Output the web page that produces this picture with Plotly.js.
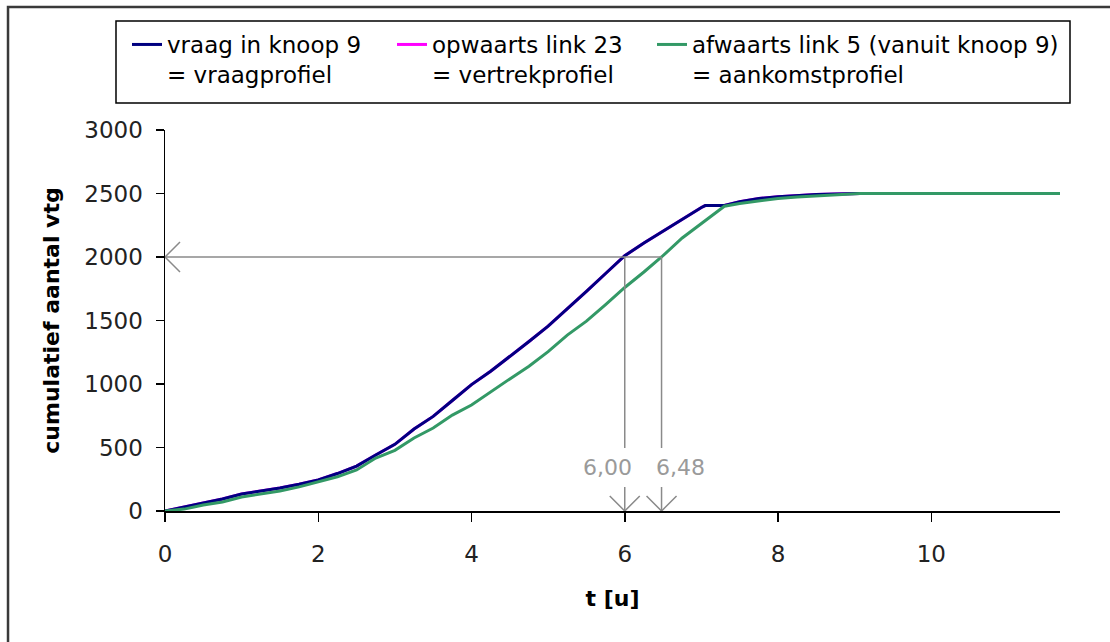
<!DOCTYPE html>
<html>
<head>
<meta charset="utf-8">
<script src="https://cdn.plot.ly/plotly-3.0.1.min.js"></script>
<style>html,body{margin:0;padding:0;background:#fff;}#chart{width:1110px;height:642px;}</style>
</head>
<body>
<div id="chart"></div>
<script>
// time (hours) for the demand / departure profile
var tVraag = [0, 0.25, 0.5, 0.75, 1, 1.25, 1.5, 1.75, 2, 2.25, 2.5, 2.75, 3, 3.25, 3.5, 3.75, 4, 4.25, 4.5, 4.75, 5, 5.25, 5.5, 5.75, 6, 6.25, 6.5, 6.75, 7, 7.05, 7.3, 7.5, 7.75, 8, 8.25, 8.5, 8.75, 9.07, 11.68];
var vraag  = [0, 34, 63, 94, 134, 158, 181, 210, 244, 295, 354, 441, 525, 645, 745, 870, 995, 1100, 1215, 1335, 1455, 1590, 1730, 1870, 2010, 2110, 2205, 2298, 2390, 2405, 2405, 2436, 2460, 2475, 2485, 2492, 2497, 2500, 2500];
var opwaarts = [0, 34, 63, 94, 134, 158, 181, 210, 244, 295, 354, 441, 525, 645, 745, 870, 995, 1100, 1215, 1335, 1455, 1590, 1730, 1870, 2010, 2110, 2205, 2298, 2390, 2405, 2405, 2436, 2460, 2475, 2485, 2492, 2497, 2500, 2500];
// time (hours) for the arrival profile
var tAfwaarts = [0, 0.25, 0.5, 0.75, 1, 1.25, 1.5, 1.75, 2, 2.25, 2.5, 2.75, 3, 3.25, 3.5, 3.75, 4, 4.25, 4.5, 4.75, 5, 5.25, 5.5, 5.75, 6, 6.25, 6.48, 6.75, 7, 7.3, 7.5, 7.75, 8, 8.25, 8.5, 8.75, 9.07, 11.68];
var afwaarts  = [0, 15, 47, 71, 110, 135, 157, 190, 228, 270, 323, 417, 478, 575, 653, 755, 835, 940, 1040, 1140, 1255, 1385, 1495, 1625, 1760, 1882, 2000, 2150, 2265, 2400, 2422, 2440, 2460, 2472, 2482, 2490, 2500, 2500];

var names = ['vraag in knoop 9<br>= vraagprofiel', 'opwaarts link 23<br>= vertrekprofiel', 'afwaarts link 5 (vanuit knoop 9)<br>= aankomstprofiel'];
var xTicks = [0, 2, 4, 6, 8, 10];
var yTicks = [0, 500, 1000, 1500, 2000, 2500, 3000];
var tMarks = [6.00, 6.48];
var tMarkLabels = ['6,00', '6,48'];
var vLevel = 2000;

var FONT = 'DejaVu Sans, Arial, sans-serif';

var traces = [
  {x: tVraag, y: opwaarts, name: names[1], mode: 'lines', line: {color: '#ff00ff', width: 3}, legend: 'legend2'},
  {x: tVraag, y: vraag, name: names[0], mode: 'lines', line: {color: '#000080', width: 3}, legend: 'legend'},
  {x: tAfwaarts, y: afwaarts, name: names[2], mode: 'lines', line: {color: '#339966', width: 3}, legend: 'legend3'}
];

var gray = '#8a8a8a';
var shapes = [
  // outer frame
  {type: 'rect', xref: 'paper', yref: 'paper', x0: -0.1754, x1: 1.3, y0: -0.6, y1: 1.3228, line: {color: '#3a3a3a', width: 2.5}},
  // legend frame
  {type: 'rect', xref: 'paper', yref: 'paper', x0: -0.05475, x1: 1.01117, y0: 1.07087, y1: 1.28609, line: {color: '#000', width: 1.5}},
  // horizontal reference line
  {type: 'line', xref: 'x', yref: 'y', x0: 0, x1: tMarks[1], y0: vLevel, y1: vLevel, line: {color: gray, width: 1.5}},
  // left arrow head at y axis
  {type: 'path', xref: 'x', yref: 'y', xsizemode: 'pixel', ysizemode: 'pixel', xanchor: 0, yanchor: vLevel, path: 'M15,15 L0,0 L15,-15', line: {color: gray, width: 1.5}}
];
tMarks.forEach(function (t) {
  shapes.push({type: 'line', xref: 'x', yref: 'y', x0: t, x1: t, y0: vLevel, y1: 496, line: {color: gray, width: 1.5}});
  shapes.push({type: 'line', xref: 'x', yref: 'y', ysizemode: 'pixel', yanchor: 0, x0: t, x1: t, y0: 0, y1: 24, line: {color: gray, width: 1.5}});
  shapes.push({type: 'path', xref: 'x', yref: 'y', xsizemode: 'pixel', ysizemode: 'pixel', xanchor: t, yanchor: 0, path: 'M-15,15 L0,0 L15,15', line: {color: gray, width: 1.5}});
});

var annotations = [
  {x: tMarks[0], y: 346, xref: 'x', yref: 'y', text: tMarkLabels[0], showarrow: false, xshift: -17, font: {family: FONT, size: 22, color: '#9a9a9a'}},
  {x: tMarks[1], y: 346, xref: 'x', yref: 'y', text: tMarkLabels[1], showarrow: false, xshift: 19, font: {family: FONT, size: 22, color: '#9a9a9a'}}
];

function legendAt(px) {
  return {
    orientation: 'v', x: (px - 165) / 895, xanchor: 'left', y: (511 - 23) / 381, yanchor: 'top',
    valign: 'top', bgcolor: 'rgba(0,0,0,0)', borderwidth: 0,
    font: {family: FONT, size: 23, color: '#000'}
  };
}

var layout = {
  width: 1110, height: 642, autosize: false,
  margin: {l: 165, r: 50, t: 130, b: 131, pad: 0},
  paper_bgcolor: '#fff', plot_bgcolor: '#fff',
  font: {family: FONT, size: 23, color: '#000'},
  showlegend: true,
  legend: legendAt(127),
  legend2: legendAt(392),
  legend3: legendAt(652),
  xaxis: {
    range: [0, 11.68], tickvals: xTicks, ticktext: xTicks.map(String),
    showgrid: false, zeroline: false, showline: true, linecolor: '#000', linewidth: 1.5,
    ticks: 'outside', ticklen: 9, tickwidth: 1.5, tickcolor: '#000',
    ticklabelstandoff: 13,
    tickfont: {family: FONT, size: 23, color: '#222'},
    title: {text: '<b>t [u]</b>', font: {family: FONT, size: 22, color: '#000'}, standoff: 24}
  },
  yaxis: {
    range: [0, 3000], tickvals: yTicks, ticktext: yTicks.map(String),
    showgrid: false, zeroline: false, showline: true, linecolor: '#000', linewidth: 1.5,
    ticks: 'outside', ticklen: 8, tickwidth: 1.5, tickcolor: '#000',
    ticklabelstandoff: 8,
    tickfont: {family: FONT, size: 23, color: '#222'},
    title: {text: '<b>cumulatief aantal vtg</b>', font: {family: FONT, size: 22, color: '#000'}, standoff: 18}
  },
  shapes: shapes,
  annotations: annotations
};

Plotly.newPlot('chart', traces, layout, {displayModeBar: false, staticPlot: true});
</script>
</body>
</html>
